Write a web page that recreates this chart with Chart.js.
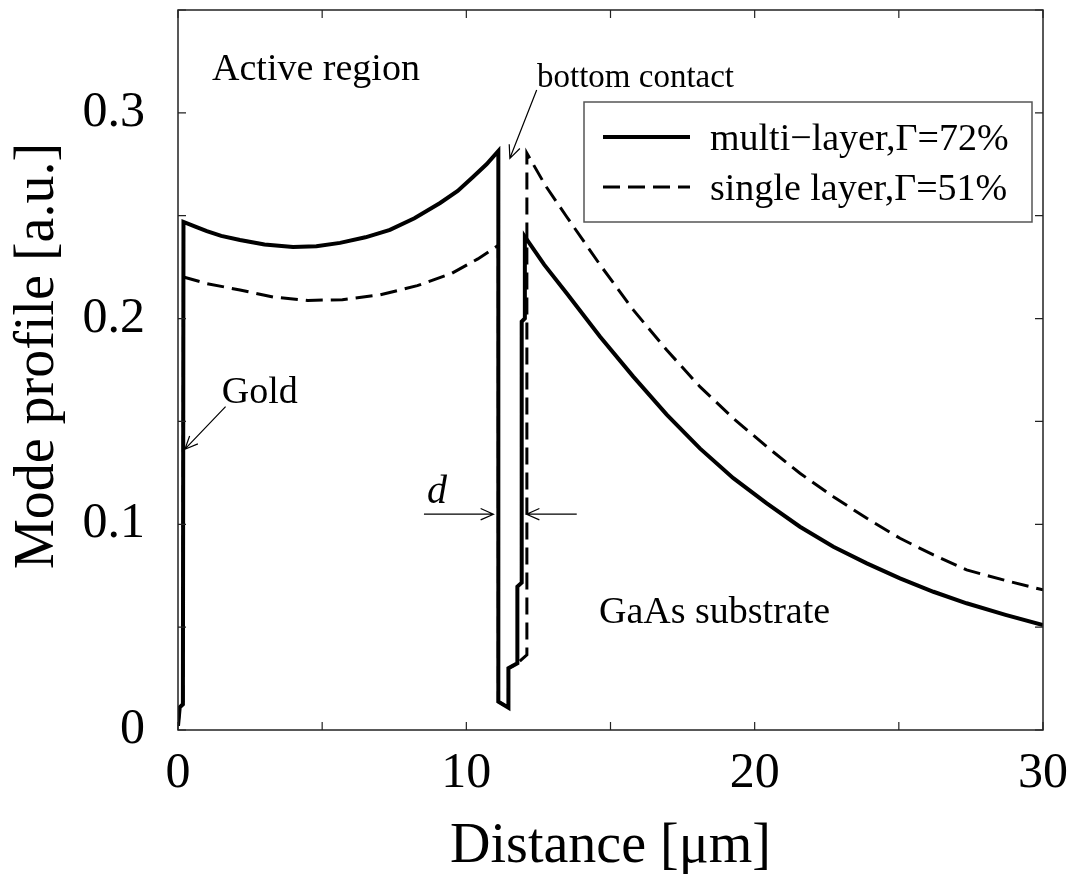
<!DOCTYPE html>
<html>
<head>
<meta charset="utf-8">
<script src="https://cdn.jsdelivr.net/npm/chart.js@4.4.0/dist/chart.umd.min.js"></script>
<style>
html, body { margin: 0; padding: 0; background: #fff; }
#wrap { width: 1077px; height: 875px; }
</style>
</head>
<body>
<div id="wrap"><canvas id="canvas"></canvas></div>
<script>
// multi-layer (solid) profile
const multiX = [0, 0.06, 0.17, 0.19, 0.6, 1.0, 1.5, 2.15, 3.0, 3.99, 4.8, 5.62, 6.5, 7.35, 8.2, 9.09, 9.7, 10.23, 10.7, 11.11,
    11.11, 11.46, 11.46, 11.77, 11.77, 11.92, 11.92, 12.03, 12.03,
    12.7, 13.48, 14.64, 15.79, 16.95, 18.10, 19.26, 20.42, 21.57, 22.73, 23.89, 25.04, 26.20, 27.35, 28.7, 30];
const multiY = [0.002, 0.011, 0.0125, 0.247, 0.2447, 0.2425, 0.2402, 0.2382, 0.236, 0.2348, 0.2352, 0.2368, 0.2395, 0.2431, 0.2488, 0.2562, 0.2620, 0.2688, 0.2750, 0.2815,
    0.0138, 0.0108, 0.030, 0.0324, 0.0697, 0.0716, 0.1985, 0.2001, 0.2398,
    0.2262, 0.2123, 0.1912, 0.1718, 0.1533, 0.1369, 0.1224, 0.1102, 0.0988, 0.0891, 0.0810, 0.0737, 0.0672, 0.0616, 0.0560, 0.0510];

// single layer (dashed) profile
const singleX = [0, 0.06, 0.17, 0.19, 1.0, 2.15, 3.3, 4.5, 5.7, 7.0, 8.3, 9.5, 10.4, 11.11,
    11.11, 11.46, 11.46, 11.77, 12.1, 12.1,
    12.75, 13.48, 14.64, 15.79, 16.95, 18.10, 19.26, 20.42, 21.57, 22.73, 23.89, 25.04, 26.20, 27.35, 28.7, 30];
const singleY = [0.002, 0.011, 0.0125, 0.2202, 0.217, 0.2139, 0.2105, 0.2088, 0.2092, 0.2115, 0.216, 0.222, 0.229, 0.2356,
    0.0138, 0.0108, 0.030, 0.0324, 0.0365, 0.2804,
    0.2645, 0.2495, 0.2261, 0.2042, 0.1847, 0.1669, 0.1515, 0.1377, 0.1248, 0.1134, 0.1029, 0.0932, 0.0851, 0.0778, 0.0727, 0.0681];

const seriesLabels = ['multi\u2212layer,\u0393=72%', 'single layer,\u0393=51%'];
const xTitle = 'Distance [\u03bcm]';
const yTitle = 'Mode profile [a.u.]';

// text annotations, anchored in data units
const notes = [
    { text: 'Active region', x: 1.18, y: 0.316, size: 38, style: '' },
    { text: 'bottom contact', x: 12.45, y: 0.3126, size: 33, style: '' },
    { text: 'Gold', x: 1.52, y: 0.1588, size: 38, style: '' },
    { text: 'd', x: 8.64, y: 0.1102, size: 40, style: 'italic ' },
    { text: 'GaAs substrate', x: 14.6, y: 0.0519, size: 38, style: '' }
];
// arrows: [fromX, fromY, toX, toY]
const arrows = [
    [12.44, 0.3111, 11.51, 0.2779],
    [1.65, 0.1572, 0.24, 0.1365],
    [8.53, 0.1049, 10.94, 0.1049],
    [13.83, 0.1049, 12.09, 0.1049]
];

const serif = "'Liberation Serif', 'Times New Roman', serif";

function toPoints(xs, ys) {
    return xs.map((v, i) => ({ x: v, y: ys[i] }));
}

const framePlugin = {
    id: 'frame',
    afterDatasetsDraw(chart) {
        const { ctx, chartArea: a, scales } = chart;
        const x = scales.x, y = scales.y;
        ctx.save();
        ctx.strokeStyle = '#222';
        ctx.lineWidth = 1.5;
        ctx.strokeRect(a.left, a.top, a.width, a.height);
        ctx.lineWidth = 1.2;
        ctx.beginPath();
        x.ticks.forEach(t => {
            const px = x.getPixelForValue(t.value);
            ctx.moveTo(px, a.bottom); ctx.lineTo(px, a.bottom - 8);
            ctx.moveTo(px, a.top); ctx.lineTo(px, a.top + 8);
        });
        y.ticks.forEach(t => {
            const py = y.getPixelForValue(t.value);
            ctx.moveTo(a.left, py); ctx.lineTo(a.left + 8, py);
            ctx.moveTo(a.right, py); ctx.lineTo(a.right - 8, py);
        });
        ctx.stroke();

        // y axis title, sits a little above the centre of the axis
        ctx.save();
        ctx.translate(38, (a.top + a.bottom) / 2 - 14);
        ctx.rotate(-Math.PI / 2);
        ctx.fillStyle = '#000';
        ctx.font = '56px ' + serif;
        ctx.textAlign = 'center';
        ctx.textBaseline = 'middle';
        ctx.fillText(yTitle, 0, 0);
        ctx.restore();

        // annotations
        ctx.fillStyle = '#000';
        ctx.textBaseline = 'alphabetic';
        ctx.textAlign = 'left';
        notes.forEach(n => {
            ctx.font = n.style + n.size + 'px ' + serif;
            ctx.fillText(n.text, x.getPixelForValue(n.x), y.getPixelForValue(n.y));
        });
        ctx.strokeStyle = '#000';
        ctx.lineWidth = 1.2;
        arrows.forEach(ar => {
            const x0 = x.getPixelForValue(ar[0]), y0 = y.getPixelForValue(ar[1]);
            const x1 = x.getPixelForValue(ar[2]), y1 = y.getPixelForValue(ar[3]);
            const ang = Math.atan2(y1 - y0, x1 - x0);
            const len = 14, spread = 0.42;
            ctx.beginPath();
            ctx.moveTo(x0, y0); ctx.lineTo(x1, y1);
            ctx.moveTo(x1 - len * Math.cos(ang - spread), y1 - len * Math.sin(ang - spread));
            ctx.lineTo(x1, y1);
            ctx.lineTo(x1 - len * Math.cos(ang + spread), y1 - len * Math.sin(ang + spread));
            ctx.stroke();
        });

        // legend box
        const bx = a.right - 459, by = a.top + 92, bw = 448, bh = 120;
        ctx.fillStyle = '#fff';
        ctx.fillRect(bx, by, bw, bh);
        ctx.strokeStyle = '#555';
        ctx.lineWidth = 1.5;
        ctx.strokeRect(bx, by, bw, bh);
        chart.data.datasets.forEach((ds, i) => {
            const ly = by + 35 + i * 50;
            ctx.strokeStyle = '#000';
            ctx.lineWidth = ds.borderWidth;
            ctx.setLineDash(ds.borderDash || []);
            ctx.beginPath();
            ctx.moveTo(bx + 19, ly); ctx.lineTo(bx + 106, ly);
            ctx.stroke();
            ctx.setLineDash([]);
            ctx.fillStyle = '#000';
            ctx.font = '38px ' + serif;
            ctx.fillText(ds.label, bx + 126, ly + 13);
        });
        ctx.restore();
    }
};

const config = {
    type: 'scatter',
    data: {
        datasets: [
            {
                label: seriesLabels[0],
                data: toPoints(multiX, multiY),
                showLine: true,
                borderColor: '#000',
                borderWidth: 4,
                borderJoinStyle: 'miter',
                pointRadius: 0,
                tension: 0
            },
            {
                label: seriesLabels[1],
                data: toPoints(singleX, singleY),
                showLine: true,
                borderColor: '#000',
                borderWidth: 3,
                borderDash: [17, 8],
                pointRadius: 0,
                tension: 0
            }
        ]
    },
    options: {
        responsive: true,
        maintainAspectRatio: false,
        animation: false,
        layout: { padding: { top: 10, right: 34, left: 0, bottom: 0 } },
        plugins: {
            legend: { display: false },
            tooltip: { enabled: false }
        },
        scales: {
            x: {
                type: 'linear',
                min: 0,
                max: 30,
                afterFit(s) { s.height = 145; s.paddingLeft = 0; s.paddingRight = 0; },
                grid: { display: false, drawTicks: false },
                border: { display: false },
                ticks: {
                    stepSize: 5,
                    autoSkip: false,
                    maxRotation: 0,
                    padding: 14,
                    color: '#000',
                    font: { family: serif, size: 50 },
                    callback: v => (v % 10 === 0 ? String(v) : '')
                },
                title: {
                    display: true,
                    text: xTitle,
                    color: '#000',
                    font: { family: serif, size: 56, lineHeight: 1 },
                    padding: { top: 0, bottom: 0 }
                }
            },
            y: {
                type: 'linear',
                min: 0,
                max: 0.35,
                afterFit(s) { s.width = 178; s.paddingTop = 0; s.paddingBottom = 0; },
                grid: { display: false, drawTicks: false },
                border: { display: false },
                ticks: {
                    stepSize: 0.05,
                    autoSkip: false,
                    padding: 33,
                    color: '#000',
                    font: { family: serif, size: 50 },
                    callback: v => {
                        if (Math.round(v * 100) % 10 !== 0) return '';
                        return v === 0 ? '0' : v.toFixed(1);
                    }
                },
                title: { display: false }
            }
        }
    },
    plugins: [framePlugin]
};

new Chart(document.getElementById('canvas'), config);
</script>
</body>
</html>
